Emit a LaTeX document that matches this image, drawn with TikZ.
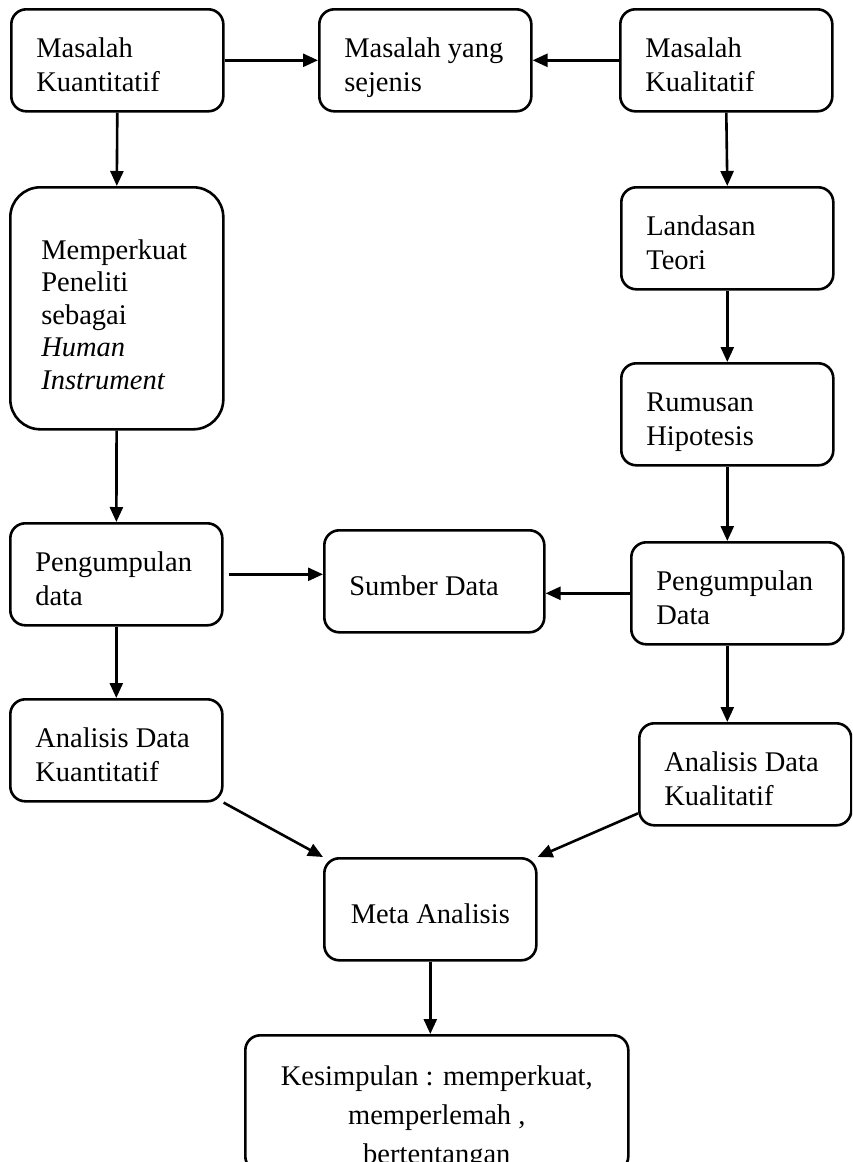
\documentclass[tikz,border=0pt]{standalone}
\usepackage{fontspec}
\setmainfont{Liberation Serif}
\usetikzlibrary{arrows.meta}
\tikzset{
  >={Triangle[width=13pt,length=15pt]},
  % Specifications for style of nodes:
          base/.style = {rectangle, rounded corners=15pt, draw=black,
                         line width=2.6pt, anchor=north west,
                         inner xsep=25pt, inner ysep=0pt, align=flush left,
                         font=\fontsize{28.5}{34}\selectfont,
                         execute at end node={\rule[-8pt]{0pt}{8pt}}},
       process/.style = {base, minimum width=212pt, minimum height=102pt,
                         text width=162pt,
                         execute at begin node={\rule{0pt}{37pt}}},
    instrument/.style = {base, rounded corners=30pt, inner xsep=31pt,
                         minimum width=213pt, minimum height=242pt,
                         text width=151pt,
                         font=\fontsize{28.5}{32.5}\selectfont,
                         execute at begin node={\rule{0pt}{40pt}}},
    conclusion/.style = {base, minimum width=383pt, minimum height=132pt,
                         text width=333pt, align=flush center,
                         font=\fontsize{28.5}{39}\selectfont,
                         execute at begin node={\rule{0pt}{50pt}}},
}

\begin{document}
\begin{tikzpicture}[x=1pt, y=-1pt, line width=2.6pt]
    \useasboundingbox (0,0) rectangle (852,1162);
    \clip (0,0) rectangle (852,1162);
    % Specification of nodes (position, etc.)
    \node (kuant)         [process] at (10,8)    {Masalah\\Kuantitatif};
    \node (sejenis)       [process] at (318,8)   {Masalah yang\\sejenis};
    \node (kual)          [process] at (619,8)   {Masalah\\Kualitatif};
    \node (peneliti)      [instrument] at (9,186)
                          {Memperkuat\\Peneliti\\sebagai\\\textit{Human}\\\textit{Instrument}};
    \node (teori)         [process] at (620,186) {Landasan\\Teori};
    \node (hipotesis)     [process] at (620,362) {Rumusan\\Hipotesis};
    \node (kumpulKuant)   [process] at (9,522)   {Pengumpulan\\data};
    \node (sumber)        [process, minimum width=220pt, text width=170pt]
                          at (323,529)           {Sumber Data};
    \node (kumpulKual)    [process] at (630,541) {Pengumpulan\\Data};
    \node (analisisKuant) [process] at (9,698)   {Analisis Data\\Kuantitatif};
    \node (analisisKual)  [process] at (638,722) {Analisis Data\\Kualitatif};
    \node (meta)          [process, align=flush center] at (323,857) {Meta Analisis};
    \node (kesimpulan)    [conclusion] at (244,1034)
                          {Kesimpulan : memperkuat,\\memperlemah ,\\bertentangan};

    % Specification of lines between nodes specified above
    \draw[->]                (kuant.east)  -- (sejenis.west);
    \draw[->]                (kual.west)   -- (sejenis.east);
    \draw[->]                (kuant.south) -- (peneliti.north);
    \draw[->]                (kual.south)  -- (teori.north);
    \draw[->]                (teori)       -- (hipotesis);
    \draw[->]                (hipotesis.south) -- (hipotesis.south |- kumpulKual.north);
    \draw[->]                (peneliti)    -- (kumpulKuant);
    \draw[->, shorten <=5pt] (kumpulKuant.east) -- (kumpulKuant.east -| sumber.west);
    \draw[->]                (kumpulKual.west)  -- (kumpulKual.west -| sumber.east);
    \draw[->]                (kumpulKuant) -- (analisisKuant);
    \draw[->]                (hipotesis.south |- kumpulKual.south)
                                           -- (hipotesis.south |- analisisKual.north);
    \draw[->]                (analisisKuant.south east) -- (meta.north west);
    \draw[->]                (analisisKual.200) -- (meta.north east);
    \draw[->]                (meta.south)  -- (meta.south |- kesimpulan.north);
\end{tikzpicture}
\end{document}
